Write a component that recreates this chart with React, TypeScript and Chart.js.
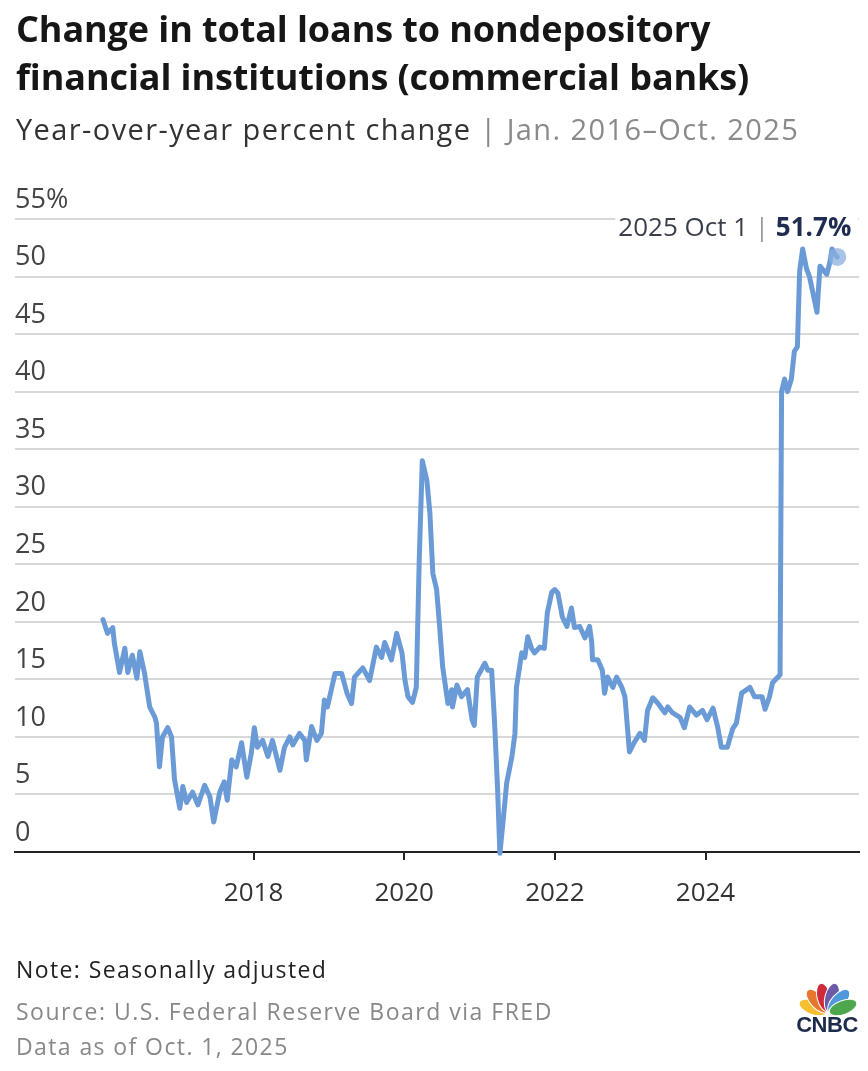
import React, { useEffect, useRef } from "react";
import { Chart, registerables } from "chart.js";

Chart.register(...registerables);

const FONT = "'Open Sans', 'Noto Sans', sans-serif";

const dates = [
  2016.0, 2016.06, 2016.13, 2016.15, 2016.22, 2016.29, 2016.33, 2016.39, 2016.45, 2016.49,
  2016.55, 2016.62, 2016.69, 2016.71, 2016.75, 2016.79, 2016.86, 2016.91, 2016.95, 2017.02,
  2017.06, 2017.11, 2017.19, 2017.26, 2017.35, 2017.42, 2017.47, 2017.55, 2017.61, 2017.65,
  2017.71, 2017.77, 2017.84, 2017.91, 2017.97, 2018.01, 2018.05, 2018.12, 2018.19, 2018.25,
  2018.35, 2018.41, 2018.48, 2018.52, 2018.61, 2018.68, 2018.7, 2018.77, 2018.84, 2018.9,
  2018.94, 2018.98, 2019.08, 2019.17, 2019.24, 2019.3, 2019.34, 2019.45, 2019.54, 2019.63,
  2019.7, 2019.74, 2019.83, 2019.9, 2019.97, 2020.01, 2020.05, 2020.11, 2020.16, 2020.2,
  2020.24, 2020.3, 2020.34, 2020.38, 2020.43, 2020.47, 2020.51, 2020.58, 2020.63, 2020.64,
  2020.7, 2020.76, 2020.84, 2020.9, 2020.93, 2020.97, 2021.07, 2021.11, 2021.16, 2021.2,
  2021.24, 2021.27, 2021.31, 2021.36, 2021.43, 2021.47, 2021.49, 2021.56, 2021.6, 2021.64,
  2021.69, 2021.73, 2021.8, 2021.86, 2021.9, 2021.96, 2022.0, 2022.04, 2022.1, 2022.16,
  2022.22, 2022.26, 2022.33, 2022.4, 2022.46, 2022.49, 2022.5, 2022.57, 2022.63, 2022.66,
  2022.7, 2022.77, 2022.82, 2022.89, 2022.93, 2022.99, 2023.06, 2023.13, 2023.19, 2023.23,
  2023.3, 2023.37, 2023.46, 2023.5, 2023.56, 2023.66, 2023.72, 2023.79, 2023.88, 2023.96,
  2024.02, 2024.1, 2024.16, 2024.21, 2024.29, 2024.36, 2024.41, 2024.48, 2024.59, 2024.65,
  2024.75, 2024.79, 2024.85, 2024.89, 2024.99, 2025.01, 2025.05, 2025.09, 2025.14, 2025.18,
  2025.22, 2025.25, 2025.29, 2025.34, 2025.38, 2025.42, 2025.48, 2025.52, 2025.57, 2025.61,
  2025.65, 2025.68, 2025.72, 2025.75,
];

// Year-over-year percent change
const values = [
  20.2, 19.0, 19.5, 18.2, 15.6, 17.7, 15.6, 17.1, 15.1, 17.4,
  15.6, 12.6, 11.7, 11.2, 7.4, 10.0, 10.8, 10.0, 6.3, 3.8,
  5.7, 4.3, 5.2, 4.1, 5.8, 4.8, 2.6, 5.2, 6.1, 4.5,
  8.0, 7.4, 9.5, 6.5, 8.6, 10.8, 9.1, 9.7, 8.3, 9.7,
  7.1, 9.1, 10.0, 9.3, 10.3, 9.7, 8.0, 10.9, 9.7, 10.3,
  13.2, 12.6, 15.5, 15.5, 13.8, 12.9, 15.2, 16.0, 14.9, 17.8,
  16.9, 18.2, 16.7, 19.0, 17.3, 14.9, 13.5, 13.0, 14.3, 25.6,
  34.0, 32.3, 29.5, 24.2, 22.8, 19.6, 16.1, 12.9, 14.1, 12.6,
  14.5, 13.5, 14.1, 11.5, 11.0, 15.2, 16.4, 15.8, 15.8, 11.2,
  5.4, -0.1, 2.5, 6.0, 8.3, 10.3, 14.3, 17.3, 16.9, 18.7,
  17.7, 17.3, 17.8, 17.7, 20.8, 22.6, 22.8, 22.5, 20.4, 19.6,
  21.2, 19.5, 19.6, 18.6, 19.6, 18.2, 16.7, 16.7, 15.8, 13.8,
  15.2, 14.3, 15.2, 14.3, 13.5, 8.7, 9.6, 10.3, 9.7, 12.3,
  13.4, 12.9, 12.1, 12.6, 12.1, 11.7, 10.8, 12.6, 11.9, 12.3,
  11.5, 12.5, 10.9, 9.1, 9.1, 10.7, 11.2, 13.8, 14.3, 13.5,
  13.5, 12.4, 13.5, 14.7, 15.4, 40.0, 41.1, 40.0, 41.1, 43.5,
  43.9, 50.5, 52.4, 50.7, 50.0, 48.8, 46.9, 50.9, 50.5, 50.2,
  51.2, 52.4, 51.9, 51.7,
];

const yTickValues = [0, 5, 10, 15, 20, 25, 30, 35, 40, 45, 50, 55];
const xTickYears = [2018, 2020, 2022, 2024];
const lastLabelDate = "2025 Oct 1";
const lastLabelValue = "51.7%";

const LINE_COLOR = "#6a9bd7";

export default function App() {
  const ref = useRef<HTMLCanvasElement | null>(null);

  useEffect(() => {
    const canvas = ref.current;
    if (!canvas) return;
    const lastIdx = values.length - 1;
    const points = dates.map((d, i) => ({ x: d, y: values[i] }));

    const lastLabel = {
      id: "lastLabel",
      afterDatasetsDraw(chart: any) {
        const c = chart.ctx as CanvasRenderingContext2D;
        const xs = chart.scales.x;
        const ys = chart.scales.y;
        const px = xs.getPixelForValue(dates[lastIdx]);
        const py = ys.getPixelForValue(values[lastIdx]);
        const right = px + 14;
        const base = py - 21;
        const fReg = `400 26px ${FONT}`;
        const fBold = `700 26px ${FONT}`;
        const sep = " | ";
        c.save();
        c.font = fBold;
        const wVal = c.measureText(lastLabelValue).width;
        c.font = fReg;
        const wSep = c.measureText(sep).width;
        const wDate = c.measureText(lastLabelDate).width;
        const start = right - wVal - wSep - wDate;
        c.fillStyle = "#ffffff";
        c.fillRect(start - 3, base - 24, right - start + 10, 30);
        c.textBaseline = "alphabetic";
        c.textAlign = "left";
        c.fillStyle = "#3a3f4a";
        c.fillText(lastLabelDate, start, base);
        c.fillStyle = "#9a9a9a";
        c.fillText(sep, start + wDate, base);
        c.font = fBold;
        c.fillStyle = "#1e2c4f";
        c.fillText(lastLabelValue, start + wDate + wSep, base);
        c.restore();
      },
    };

    const chart = new Chart(canvas, {
      type: "line",
      data: {
        datasets: [
          {
            data: points,
            borderColor: LINE_COLOR,
            borderWidth: 5,
            borderJoinStyle: "round",
            borderCapStyle: "round",
            tension: 0,
            clip: false as any,
            pointRadius: points.map((_, i) => (i === lastIdx ? 9 : 0)),
            pointHoverRadius: 0,
            pointBackgroundColor: "rgba(140,175,222,0.75)",
            pointBorderWidth: 0,
          },
        ],
      },
      options: {
        responsive: false,
        animation: false,
        devicePixelRatio: 1,
        layout: { padding: { left: 15, right: 8, top: 219, bottom: 159 } },
        plugins: { legend: { display: false }, tooltip: { enabled: false } },
        scales: {
          x: {
            type: "linear",
            min: 2014.832,
            max: 2026.038,
            afterBuildTicks: (s: any) => {
              s.ticks = xTickYears.map((v) => ({ value: v }));
            },
            afterFit: (s: any) => {
              s.height = 60;
            },
            ticks: {
              color: "#333333",
              font: { family: FONT, size: 26 },
              padding: 18,
              maxRotation: 0,
              autoSkip: false,
              callback: (v: any) => String(v),
            },
            grid: {
              drawOnChartArea: false,
              drawTicks: true,
              tickLength: 8,
              color: "#222222",
              lineWidth: 2,
            },
            border: { display: true, color: "#222222", width: 2 },
          },
          y: {
            type: "linear",
            min: 0,
            max: 55,
            afterBuildTicks: (s: any) => {
              s.ticks = yTickValues.map((v) => ({ value: v }));
            },
            afterFit: (s: any) => {
              s.width = 0;
            },
            ticks: {
              mirror: true,
              padding: 0,
              labelOffset: -19,
              color: "#444444",
              font: { family: FONT, size: 27 },
              callback: (v: any) => (v === 55 ? "55%" : String(v)),
            },
            grid: {
              drawTicks: false,
              lineWidth: 2,
              color: (ctx: any) => (ctx.tick && ctx.tick.value === 0 ? "rgba(0,0,0,0)" : "#d8d8d8"),
            },
            border: { display: false },
          },
        },
      },
      plugins: [lastLabel],
    });
    return () => chart.destroy();
  }, []);

  const text = (top: number, size: number, weight: number, color: string, ls = 0) => ({
    position: "absolute" as const,
    left: 16,
    top,
    fontFamily: FONT,
    fontSize: size,
    fontWeight: weight,
    color,
    lineHeight: `${size}px`,
    letterSpacing: ls,
    whiteSpace: "nowrap" as const,
  });

  const feathers = [
    { a: -70, c: "#f5bf2f" },
    { a: -42, c: "#e8772e" },
    { a: -14, c: "#cf2a3a" },
    { a: 14, c: "#6c5ba6" },
    { a: 42, c: "#4f98dc" },
    { a: 70, c: "#4ea74c" },
  ];

  return (
    <div style={{ position: "absolute", left: 0, top: 0, width: 868, height: 1071, background: "#fff", overflow: "hidden" }}>
      <canvas ref={ref} width={868} height={1071} style={{ position: "absolute", left: 0, top: 0, width: 868, height: 1071 }} />
      <div style={text(11, 36, 700, "#161616", -0.1)}>Change in total loans to nondepository</div>
      <div style={text(59, 36, 700, "#161616", -0.1)}>financial institutions (commercial banks)</div>
      <div style={text(114, 29, 400, "#333333", 1.4)}>
        Year-over-year percent change <span style={{ color: "#888" }}>|</span>{" "}
        <span style={{ color: "#8a8a8a" }}>Jan. 2016–Oct. 2025</span>
      </div>
      <div style={text(958, 23, 400, "#222222", 1.4)}>Note: Seasonally adjusted</div>
      <div style={text(1000, 23, 400, "#888888", 1.5)}>Source: U.S. Federal Reserve Board via FRED</div>
      <div style={text(1035, 23, 400, "#888888", 1.4)}>Data as of Oct. 1, 2025</div>
      <svg style={{ position: "absolute", left: 796, top: 972 }} width={64} height={44} viewBox="0 0 64 44">
        {feathers.map((f, i) => (
          <ellipse key={i} cx={32} cy={25} rx={7} ry={14.5} fill={f.c} stroke="#fff" strokeWidth={1}
            transform={`rotate(${f.a} 32 41)`} />
        ))}
      </svg>
      <div style={{ position: "absolute", left: 793, top: 1014, width: 68, textAlign: "center", fontFamily: "'Liberation Sans', Arial, sans-serif", fontWeight: 700, fontSize: 22, color: "#1c2a4b", lineHeight: "22px", letterSpacing: -0.5 }}>CNBC</div>
    </div>
  );
}
